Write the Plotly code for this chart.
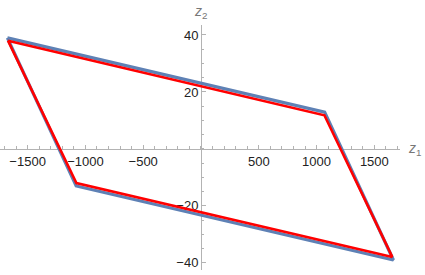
import plotly.graph_objects as go

# Outer (blue) parallelogram vertices
blue_z1 = [-1675, 1070, 1665, -1080, -1675]
blue_z2 = [39.0, 12.9, -39.0, -13.0, 39.0]
# Inner (red) parallelogram vertices
red_z1 = [-1670, 1068, 1655, -1078, -1670]
red_z2 = [38.0, 11.8, -37.9, -12.0, 38.0]

x_ticks = [-1500, -1000, -500, 500, 1000, 1500]
y_ticks = [-40, -20, 20, 40]

x_range = [-1739, 1722]
y_range = [-42.5, 43.5]

fig = go.Figure()
fig.add_trace(go.Scatter(x=blue_z1, y=blue_z2, mode="lines",
                         line=dict(color="#5E81B5", width=3.2), hoverinfo="skip"))
fig.add_trace(go.Scatter(x=red_z1, y=red_z2, mode="lines",
                         line=dict(color="#FF0000", width=2.6), hoverinfo="skip"))

axcol = "#b3b3b3"
font = dict(family="Liberation Sans, Arial, sans-serif", size=13, color="#222")

fig.update_layout(
    width=425, height=275,
    margin=dict(l=0, r=25, t=25, b=5, autoexpand=False),
    paper_bgcolor="white", plot_bgcolor="white",
    showlegend=False,
    font=font,
    xaxis=dict(
        range=x_range, showgrid=False, zeroline=False, automargin=False,
        showline=True, linecolor=axcol, linewidth=1,
        anchor="free", position=(0 - y_range[0]) / (y_range[1] - y_range[0]),
        tickmode="array", tickvals=x_ticks,
        ticks="inside", ticklen=4, tickcolor=axcol, tickwidth=1,
        minor=dict(dtick=100, tick0=0, ticklen=2.5, tickcolor=axcol, ticks="inside"),
        layer="below traces", tickfont=font,
    ),
    yaxis=dict(
        range=y_range, showgrid=False, zeroline=False, automargin=False,
        showline=True, linecolor=axcol, linewidth=1,
        anchor="free", position=(0 - x_range[0]) / (x_range[1] - x_range[0]),
        tickmode="array", tickvals=y_ticks,
        ticks="inside", ticklen=4, tickcolor=axcol, tickwidth=1,
        minor=dict(dtick=5, tick0=0, ticklen=2.5, tickcolor=axcol, ticks="inside"),
        layer="below traces", tickfont=font,
    ),
    annotations=[
        dict(text="<i>z</i><sub>1</sub>", xref="paper", yref="y", x=1.0, y=0,
             xanchor="left", yanchor="middle", xshift=6, showarrow=False,
             font=dict(family="Liberation Sans, Arial, sans-serif", size=14, color="#777")),
        dict(text="<i>z</i><sub>2</sub>", xref="x", yref="paper", x=0, y=1.0,
             xanchor="center", yanchor="bottom", yshift=2, showarrow=False,
             font=dict(family="Liberation Sans, Arial, sans-serif", size=14, color="#777")),
    ],
)

fig.write_html("out.html", config={"displayModeBar": False},
               post_script="document.body.style.margin='0';")
